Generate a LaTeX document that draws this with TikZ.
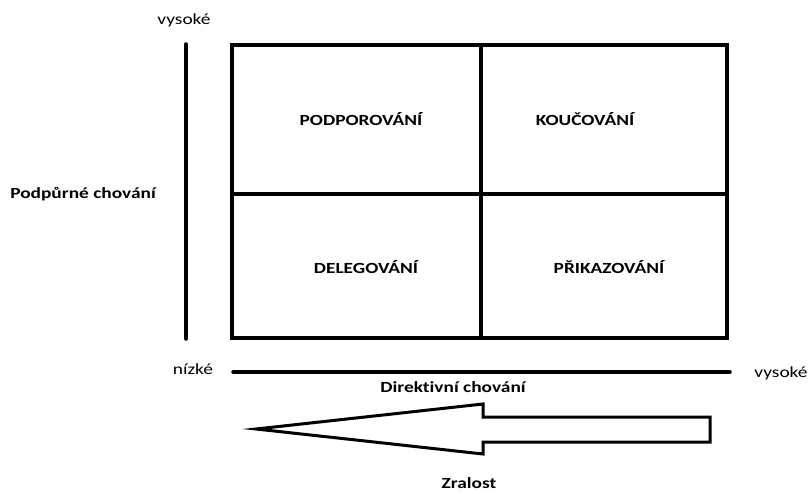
\documentclass[tikz,border=0pt]{standalone}
\usepackage{fontspec}
\setmainfont{Carlito}[FakeStretch=1.25, Ligatures=NoCommon]
\usetikzlibrary{positioning}

\begin{document}
\begin{tikzpicture}[
    x=1pt, y=-1pt,
    txt/.style={
        font=\fontsize{15.5}{18}\selectfont,
        inner sep=0pt,
        anchor=base
    },
    celltext/.style={
        txt,
        font=\fontsize{15.5}{18}\selectfont\bfseries
    },
    grid/.style={draw, line width=4pt},
    axis/.style={line width=3.5pt, line cap=round},
    bigarrow/.style={draw, line width=3pt, line join=miter}
]

\useasboundingbox (0,0) rectangle (811,492);

% Grid
\coordinate (nw) at (232,45);
\coordinate (se) at (727,338);
\draw [grid] (nw) rectangle (se);
\draw [grid] (481,45) -- (481,338);
\draw [grid] (232,194) -- (727,194);

% Quadrants
\node (podp) [celltext] at (361,126) {PODPOROVÁNÍ};
\node (kouc) [celltext] at (585,125) {KOUČOVÁNÍ};
\node (dele) [celltext] at (366,273) {DELEGOVÁNÍ};
\node (prik) [celltext] at (609,273) {PŘIKAZOVÁNÍ};

% Vertical axis
\coordinate (vtop) at (186,44);
\coordinate (vbot) at (186,339);
\draw [axis] (vtop) -- (vbot);
\node (vhigh) [txt] at (184,25) {vysoké};
\node (vname) [celltext] at (83,198) {Podpůrné chování};

% Horizontal axis
\coordinate (hleft) at (233,372);
\coordinate (hright) at (730,372);
\draw [axis] (hleft) -- (hright);
\node (hlow) [txt] at (193,374) {nízké};
\node (hhigh) [txt] at (781,377) {vysoké};
\node (hname) [celltext] at (453,392) {Direktivní chování};

% Arrow
\coordinate (tip) at (256,429);
\coordinate (headtop) at (483,404);
\coordinate (headbot) at (483,454);
\coordinate (tailtop) at (710,417);
\coordinate (tailbot) at (710,442);
\draw [bigarrow] (tip) -- (headtop) -- (483,417) -- (tailtop)
    -- (tailbot) -- (483,442) -- (headbot) -- cycle;
\node (zral) [celltext] at (469,488) {Zralost};

\end{tikzpicture}
\end{document}
